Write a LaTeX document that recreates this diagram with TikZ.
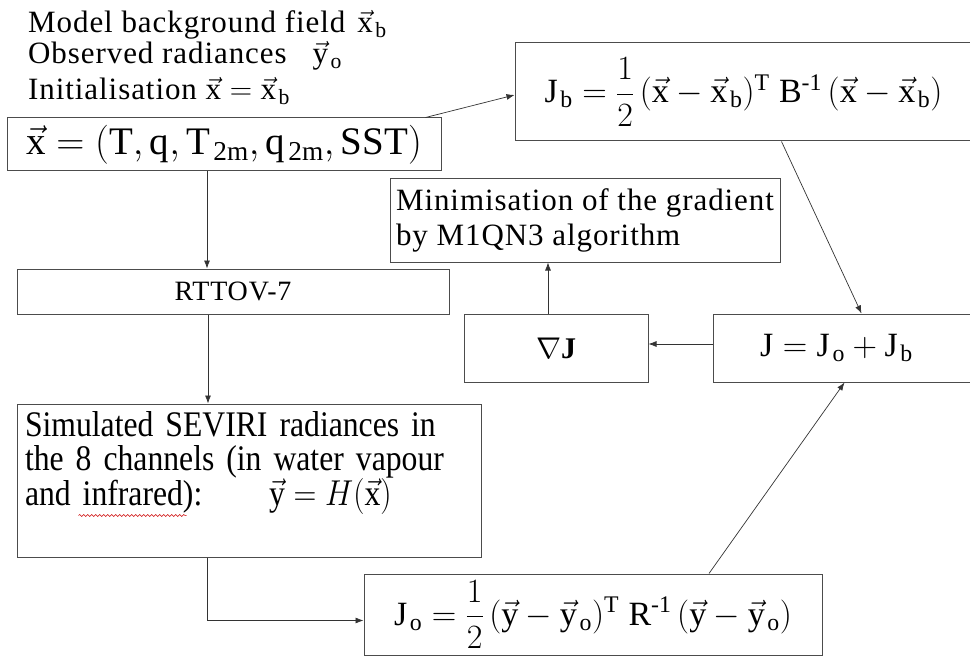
\RequirePackage{fix-cm}
\documentclass[tikz,border=0pt]{standalone}
\usepackage{amsmath}
\usepackage{fontspec}
\setmainfont{Liberation Serif}
\newfontfamily\widefont[LetterSpace=3]{Liberation Serif}
\newfontfamily\narrowserif[FakeStretch=0.88]{Liberation Serif}
\usetikzlibrary{arrows.meta,calc,decorations.pathmorphing}

\newcommand{\vx}{\vec{\mathrm{x}}}
\newcommand{\vy}{\vec{\mathrm{y}}}
\newcommand{\rmsub}[1]{_{\mkern2mu\mathrm{#1}}}
\newcommand{\fsz}[2]{\fontsize{#1}{#2}\selectfont}

\begin{document}
\begin{tikzpicture}[x=1pt,y=-1pt,
  box/.style={draw=black!70,line width=1pt,inner sep=0pt},
  link/.style={draw=black!80,line width=0.7pt,-{Latex[length=8pt,width=6pt]}},
  intro/.style={anchor=base west,inner sep=0pt,font=\widefont\fsz{31}{34}}]
\useasboundingbox (0,0) rectangle (970,658);

% given fields
\node[intro] (bg)   at (28,33)  {Model background field\hspace{12pt}$\vx\rmsub{b}$};
\node[intro] (obs)  at (28,64)  {Observed radiances\hspace{26pt}$\vy\rmsub{o}$};
\node[intro] (init) at (28,100) {Initialisation $\vx = \vx\rmsub{b}$};

% boxes
\node[box,minimum width=434pt,minimum height=53pt,font=\fsz{39}{44}] (xvec) at (224,144.5)
  {$\vx = (\mathrm{T}, \mathrm{q}, \mathrm{T}\rmsub{2m}, \mathrm{q}\rmsub{2m}, \mathrm{SST})$};
\node[box,minimum width=457pt,minimum height=98pt,font=\fsz{34}{40}] (jb) at (743.5,92)
  {$\mathrm{J}\rmsub{b} = \dfrac{1}{2}\,(\vx - \vx\rmsub{b})^{\mathrm{T}}\;\mathrm{B}^{\text{-1}}\,(\vx - \vx\rmsub{b})$};
\node[box,minimum width=432pt,minimum height=45pt,font=\widefont\fsz{28}{32}] (rttov) at (233,291.5) {RTTOV-7};
\node[box,minimum width=390pt,minimum height=83pt,font=\widefont\fsz{31}{35},align=left] (minim) at (585,220.5)
  {Minimisation of the gradient\\by M1QN3 algorithm};
\node[box,minimum width=184pt,minimum height=68pt,font=\fsz{30}{36}] (grad) at (556,348) {$\nabla\mathbf{J}$};
\node[box,minimum width=259pt,minimum height=68pt,font=\fsz{34}{40}] (jtot) at (842.5,348)
  {$\mathrm{J} = \mathrm{J}\rmsub{o} + \mathrm{J}\rmsub{b}$\hspace*{12pt}};
\node[box,minimum width=464pt,minimum height=153pt,text width=448pt,align=left,
  font=\narrowserif\fsz{36}{34}] (sim) at (249,480.5)
  {Simulated SEVIRI radiances in\\the 8 channels (in water vapour\\
   \makebox[244pt][l]{and infrared):}\scalebox{0.88}[1]{$\vy = H(\vx)$}\\ \strut};
\node[box,minimum width=458pt,minimum height=81pt,font=\fsz{34}{40}] (jo) at (593,614.5)
  {$\mathrm{J}\rmsub{o} = \dfrac{1}{2}\,(\vy - \vy\rmsub{o})^{\mathrm{T}}\;\mathrm{R}^{\text{-1}}\,(\vy - \vy\rmsub{o})$};

% spell-check mark
\draw[red!80!black,line width=0.5pt,decorate,decoration={snake,amplitude=1pt,segment length=4pt}]
  ($(sim.north west)+(62,112)$) -- ($(sim.north west)+(170,112)$);

% connectors
\draw[link] ([xshift=-16pt]xvec.north east) -- ([yshift=-3pt]jb.west);
\draw[link] ([xshift=-17pt]xvec.south) -- ([xshift=-17pt]xvec.south |- rttov.north);
\draw[link] ([xshift=-25pt]rttov.south) -- ([xshift=-25pt]rttov.south |- sim.north);
\draw[link] ([xshift=-42pt]sim.south) |- ([yshift=-6pt]jo.west);
\draw[link] ([xshift=116pt]jo.north) -- ([xshift=2pt]jtot.south);
\draw[link] ([xshift=38pt]jb.south) -- ([xshift=19pt]jtot.north);
\draw[link] ([yshift=4pt]jtot.west) -- ([yshift=4pt]grad.east);
\draw[link] ([xshift=-8pt]grad.north) -- ([xshift=-8pt]grad.north |- minim.south);
\end{tikzpicture}
\end{document}
